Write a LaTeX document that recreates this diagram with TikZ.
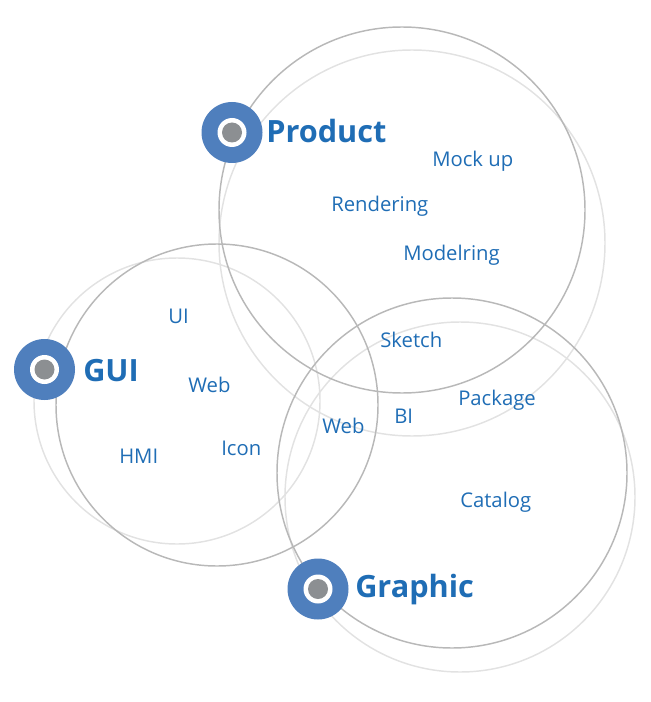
\documentclass[tikz,border=0pt]{standalone}
\usepackage{fontspec}
\setmainfont{Open Sans}
\definecolor{txtblue}{HTML}{1F6DB5}
\definecolor{dotblue}{HTML}{4F7FBD}
\definecolor{dotgray}{HTML}{8C8F92}
\definecolor{ringA}{HTML}{B8B8B8}
\definecolor{ringB}{HTML}{E2E2E2}
\tikzset{
  mainring/.style={draw=ringA, line width=1.1pt},
  faintring/.style={draw=ringB, line width=1.1pt},
  word/.style={anchor=base west, inner sep=0pt, text=txtblue, font=\fontsize{15.2}{17}\selectfont},
  title/.style={anchor=base west, inner sep=0pt, text=txtblue, font=\fontsize{23}{25}\selectfont\bfseries},
}
\newcommand{\marker}[2]{%
  \fill[dotblue] (#1) circle (30.5);
  \fill[white] (#1) circle (14.5);
  \fill[dotgray] (#1) circle (10);
  \coordinate (#2) at (#1);
}
\begin{document}
\begin{tikzpicture}[x=0.75pt,y=-0.75pt]
\useasboundingbox (0,0) rectangle (650,702);
% faint circles
\draw[faintring] (412,243) circle (193);
\draw[faintring] (177,401) circle (143);
\draw[faintring] (460,497) circle (175);
% main circles
\draw[mainring] (402,210) circle (183);
\draw[mainring] (217,405) circle (161);
\draw[mainring] (452,473) circle (175);
% markers
\marker{232,132.5}{mP}
\marker{44.5,369.5}{mG}
\marker{318,589}{mR}
% titles
\node[title] (tP) at (266,143) {Product};
\node[title] (tG) at (83,381) {GUI};
\node[title] (tR) at (355,597) {Graphic};
% words
\node[word] (w1) at (432,166.5) {Mock up};
\node[word] (w2) at (331,211) {Rendering};
\node[word] (w3) at (403,260) {Modelring};
\node[word] (w4) at (380,347) {Sketch};
\node[word] (w5) at (458,405) {Package};
\node[word] (w6) at (394,423) {BI};
\node[word] (w7) at (322,433) {Web};
\node[word] (w8) at (168,323) {UI};
\node[word] (w9) at (188,392) {Web};
\node[word] (w10) at (119,463) {HMI};
\node[word] (w11) at (221,455) {Icon};
\node[word] (w12) at (460,507) {Catalog};
\end{tikzpicture}
\end{document}
